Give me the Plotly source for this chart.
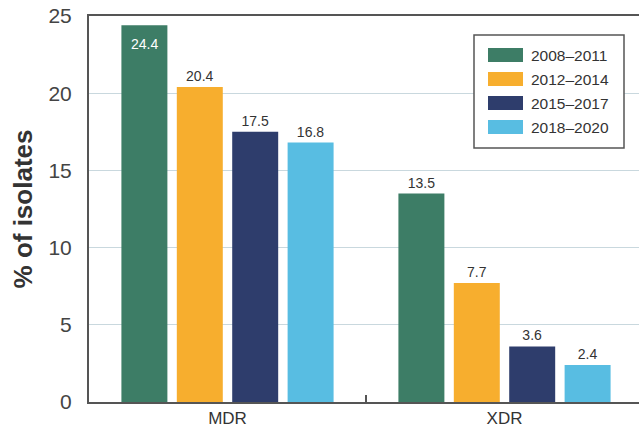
import plotly.graph_objects as go

# Drug-resistance categories and reporting periods
categories = ["MDR", "XDR"]
periods = ["2008–2011", "2012–2014", "2015–2017", "2018–2020"]
values = {
    "2008–2011": [24.4, 13.5],
    "2012–2014": [20.4, 7.7],
    "2015–2017": [17.5, 3.6],
    "2018–2020": [16.8, 2.4],
}
y_ticks = [0, 5, 10, 15, 20, 25]

colors = ["#3d7d66", "#f7ae2e", "#2e3d6c", "#58bde2"]

W, H = 639, 430
L, T, B, R = 89, 16, 28, 0
pw, ph = W - L - R, H - T - B
BARGAP = 0.2
FONT = "Liberation Sans, Arial"

fig = go.Figure()
annotations = []
n = len(periods)
slot = (1 - BARGAP) / n
for i, p in enumerate(periods):
    vals = values[p]
    labels = []
    for j, v in enumerate(vals):
        if i == 0 and j == 0:
            # tallest bar: value written in white just below its top
            labels.append("")
            annotations.append(dict(
                xref="x", yref="y", x=j - (1 - BARGAP) / 2 + slot * (i + 0.5), y=v,
                text=f"{v:.1f}", showarrow=False, yanchor="top", yshift=-9,
                font=dict(size=14, color="white", family=FONT)))
        else:
            labels.append(f"{v:.1f}")
    fig.add_trace(go.Bar(
        x=categories, y=vals, name=p,
        marker=dict(color=colors[i], line=dict(width=0)),
        text=labels,
        textposition="outside",
        textfont=dict(size=14, color="#333333", family=FONT),
        cliponaxis=False,
        showlegend=False,
    ))

# Legend drawn as a framed box with wide colour swatches
def px_x(px):
    return (px - L) / pw

def px_y(py):
    return (H - B - py) / ph

shapes = [dict(type="rect", xref="paper", yref="paper",
               x0=px_x(474), x1=px_x(624), y0=px_y(148), y1=px_y(35),
               line=dict(color="#555555", width=1.5), fillcolor="white", layer="above")]
row_centers = [55, 79, 103, 127]
for i, p in enumerate(periods):
    cy = row_centers[i]
    shapes.append(dict(type="rect", xref="paper", yref="paper",
                       x0=px_x(488), x1=px_x(523), y0=px_y(cy + 7), y1=px_y(cy - 7),
                       line=dict(width=0), fillcolor=colors[i], layer="above"))
    annotations.append(dict(xref="paper", yref="paper", x=px_x(529), y=px_y(cy),
                            text=p, showarrow=False, xanchor="left", yanchor="middle",
                            font=dict(size=15.5, color="#333333", family=FONT)))

fig.update_layout(
    width=W, height=H,
    margin=dict(l=L, r=R, t=T, b=B, pad=0),
    paper_bgcolor="white", plot_bgcolor="white",
    barmode="group", bargap=BARGAP, bargroupgap=0.17,
    font=dict(family=FONT, color="#444444"),
    shapes=shapes, annotations=annotations,
    xaxis=dict(
        range=[-0.5, -0.5 + pw / 277.0],
        showline=True, linecolor="#555555", linewidth=2, mirror=True,
        ticks="inside", tickson="boundaries", ticklen=7, tickcolor="#555555", tickwidth=1.5,
        tickfont=dict(size=17, color="#333333"),
        showgrid=False,
    ),
    yaxis=dict(
        range=[0, 25], tickvals=y_ticks,
        showline=True, linecolor="#555555", linewidth=2,
        showgrid=True, gridcolor="#c9d8de", gridwidth=1.2,
        zeroline=False, ticks="", ticklabelstandoff=11,
        tickfont=dict(size=21, color="#444444"),
        title=dict(text="<b>% of isolates</b>", font=dict(size=26, color="#333333"), standoff=8),
    ),
)

fig.write_html("out.html")
